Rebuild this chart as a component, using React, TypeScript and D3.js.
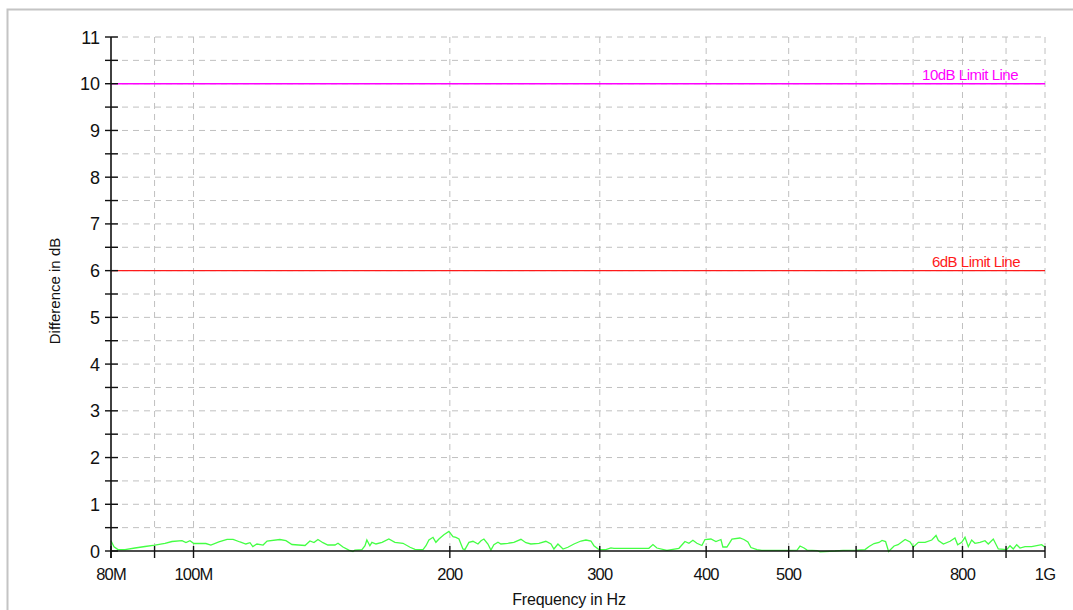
import React from "react";
import * as d3 from "d3";

// Frequency in MHz
const freqMHz: number[] = [
  80, 80.65, 81.53, 83.09, 85.36, 87.7, 90.1, 92.57, 94.34, 96.93, 97.98, 99.05, 100.1,
  103.4, 104.8, 107.1, 109.5, 111.3, 113.4, 115.2, 116.5, 117.4, 118.7, 120.7, 122.0,
  126.3, 128.4, 130.5, 135.2, 137.0, 138.5, 140.0, 141.9, 143.8, 146.6, 147.8, 149.8,
  152.2, 153.9, 154.7, 157.7, 159.0, 159.8, 161.1, 162.0, 163.8, 166.5, 169.6, 172.4,
  176.2, 179.6, 182.0, 186.0, 187.5, 189.0, 191.1, 192.6, 194.2, 196.8, 199.5, 201.7,
  203.3, 205.0, 207.2, 208.3, 210.6, 212.9, 215.8, 217.6, 219.3, 221.7, 223.5, 225.3,
  227.8, 229.6, 234.0, 237.8, 242.4, 245.7, 249.0, 254.5, 259.3, 262.9, 265.0, 267.9,
  271.6, 275.2, 279.8, 285.1, 289.0, 292.9, 295.3, 299.3, 305.0, 309.2, 311.7, 342.6,
  346.4, 350.1, 359.7, 371.6, 377.7, 381.8, 385.9, 390.1, 395.4, 398.7, 405.2, 410.7,
  416.3, 418.5, 423.1, 428.9, 438.2, 443.0, 447.8, 451.5, 458.9, 465.1, 497.8, 511.5,
  515.6, 521.2, 525.5, 539.9, 544.3, 566.8, 579.2, 601.6, 614.7, 621.4, 629.9, 638.4,
  643.6, 649.8, 655.1, 664.9, 672.1, 685.0, 694.3, 700.5, 710.0, 723.0, 736.2, 744.8,
  749.5, 759.7, 773.6, 783.9, 789.7, 798.3, 805.5, 812.7, 820.1, 827.5, 838.8, 850.2,
  857.8, 869.5, 881.4, 901.6, 909.7, 917.8, 926.3, 934.6, 947.3, 964.6, 991.1, 1000,
];

// Difference in dB
const diffDb: number[] = [
  0.22, 0.09, 0.03, 0.03, 0.064, 0.096, 0.128, 0.165, 0.203, 0.22, 0.18, 0.22, 0.16,
  0.16, 0.128, 0.193, 0.25, 0.25, 0.193, 0.15, 0.178, 0.096, 0.15, 0.128, 0.214,
  0.246, 0.22, 0.139, 0.118, 0.214, 0.182, 0.246, 0.178, 0.128, 0.128, 0.165, 0.086,
  0.02, -0.01, 0.02, 0.03, 0.113, 0.235, 0.113, 0.186, 0.15, 0.186, 0.257, 0.186,
  0.165, 0.08, 0.036, 0.03, 0.113, 0.235, 0.293, 0.186, 0.257, 0.349, 0.42, 0.306,
  0.293, 0.257, 0.043, 0.03, 0.186, 0.208, 0.15, 0.22, 0.257, 0.15, 0.02, 0.135,
  0.186, 0.15, 0.165, 0.186, 0.25, 0.178, 0.15, 0.165, 0.208, 0.15, 0.043, 0.15,
  0.043, 0.08, 0.15, 0.214, 0.235, 0.214, 0.113, 0.03, 0.03, 0.068, 0.058, 0.058,
  0.139, 0.064, 0.015, 0.058, 0.203, 0.165, 0.229, 0.165, 0.118, 0.246, 0.257, 0.203,
  0.246, 0.086, 0.086, 0.253, 0.278, 0.246, 0.193, 0.075, 0.03, 0.015, 0.015, 0.02,
  0.107, 0.064, 0.02, 0.01, -0.02, 0.0, 0.015, 0.02, 0.03, 0.096, 0.16, 0.182,
  0.225, 0.203, -0.01, 0.107, 0.135, 0.246, 0.193, 0.086, 0.186, 0.186, 0.235, 0.332,
  0.225, 0.15, 0.208, 0.278, 0.135, 0.186, 0.293, 0.092, 0.235, 0.165, 0.186, 0.22,
  0.15, 0.257, 0.043, 0.03, 0.113, 0.043, 0.135, 0.064, 0.092, 0.092, 0.135, 0.08,
];

const xTickValues: number[] = [80, 90, 100, 200, 300, 400, 500, 600, 700, 800, 900, 1000];
const xTickLabels: string[] = ["80M", "", "100M", "200", "300", "400", "500", "", "", "800", "", "1G"];
const yTickValues: number[] = [0, 1, 2, 3, 4, 5, 6, 7, 8, 9, 10, 11];
const yMinorValues: number[] = [0.5, 1.5, 2.5, 3.5, 4.5, 5.5, 6.5, 7.5, 8.5, 9.5, 10.5];

const limitValues: number[] = [10, 6];
const limitLabels: string[] = ["10dB Limit Line", "6dB Limit Line"];
const limitColors: string[] = ["#ff00ff", "#ff1a1a"];

const FONT = "'Liberation Sans', Arial, sans-serif";

export default function App() {
  const left = 111, right = 1045, top = 37, bottom = 551;
  const x = d3.scaleLog().domain([80, 1000]).range([left, right]);
  const y = d3.scaleLinear().domain([0, 11]).range([bottom, top]);

  const pts: [number, number][] = freqMHz.map((f, i) => [f, diffDb[i]]);
  const line = d3
    .line<[number, number]>()
    .x((d) => x(d[0]))
    .y((d) => y(d[1]));

  const hGrid = [...yMinorValues, ...yTickValues.filter((v) => v > 0)];
  const vGrid = xTickValues.filter((v) => v > 80);

  return (
    <svg
      width={1073}
      height={610}
      style={{ position: "absolute", left: 0, top: 0, display: "block", background: "#fff" }}
    >
      <rect x={7.5} y={9.5} width={1100} height={700} fill="#fff" stroke="#c4c4c4" strokeWidth={2} />

      {/* grid */}
      {hGrid.map((v) => (
        <line key={"h" + v} x1={left} x2={right} y1={y(v)} y2={y(v)} stroke="#c0c0c0" strokeWidth={1} strokeDasharray="6,5" />
      ))}
      {vGrid.map((v) => (
        <line key={"v" + v} x1={x(v)} x2={x(v)} y1={top} y2={bottom} stroke="#c0c0c0" strokeWidth={1} strokeDasharray="6,5" />
      ))}

      {/* limit lines */}
      {limitValues.map((v, i) => (
        <g key={"l" + v}>
          <line x1={left} x2={right} y1={y(v)} y2={y(v)} stroke={limitColors[i]} strokeWidth={1.3} />
          <text
            x={i === 0 ? 1018 : 1020}
            y={y(v) - 4}
            textAnchor="end"
            fontFamily={FONT}
            fontSize={15}
            fill={limitColors[i]}
            letterSpacing={-0.5}
          >
            {limitLabels[i]}
          </text>
        </g>
      ))}

      {/* data */}
      <path d={line(pts) || ""} fill="none" stroke="#44ff44" strokeWidth={1.3} />

      {/* axes */}
      <line x1={left} x2={left} y1={top} y2={558} stroke="#111" strokeWidth={1.6} />
      <line x1={left} x2={right} y1={bottom} y2={bottom} stroke="#111" strokeWidth={1.6} />
      {[...yTickValues, ...yMinorValues].map((v) => (
        <line key={"yt" + v} x1={105} x2={118} y1={y(v)} y2={y(v)} stroke="#111" strokeWidth={1.4} />
      ))}
      {yTickValues.map((v) => (
        <text key={"yl" + v} x={100} y={y(v) + 6.5} textAnchor="end" fontFamily={FONT} fontSize={18} fill="#111">
          {v}
        </text>
      ))}
      {xTickValues.map((v, i) => (
        <g key={"xt" + v}>
          <line x1={x(v)} x2={x(v)} y1={546} y2={558} stroke="#111" strokeWidth={1.4} />
          {xTickLabels[i] && (
            <text x={x(v)} y={580} textAnchor="middle" fontFamily={FONT} fontSize={16.5} fill="#111" letterSpacing={-0.8}>
              {xTickLabels[i]}
            </text>
          )}
        </g>
      ))}

      {/* axis titles */}
      <text x={569} y={605} textAnchor="middle" fontFamily={FONT} fontSize={16} fill="#111" letterSpacing={-0.2}>
        Frequency in Hz
      </text>
      <text
        transform="translate(60,291) rotate(-90)"
        textAnchor="middle"
        fontFamily={FONT}
        fontSize={15}
        fill="#111"
      >
        Difference in dB
      </text>
    </svg>
  );
}
